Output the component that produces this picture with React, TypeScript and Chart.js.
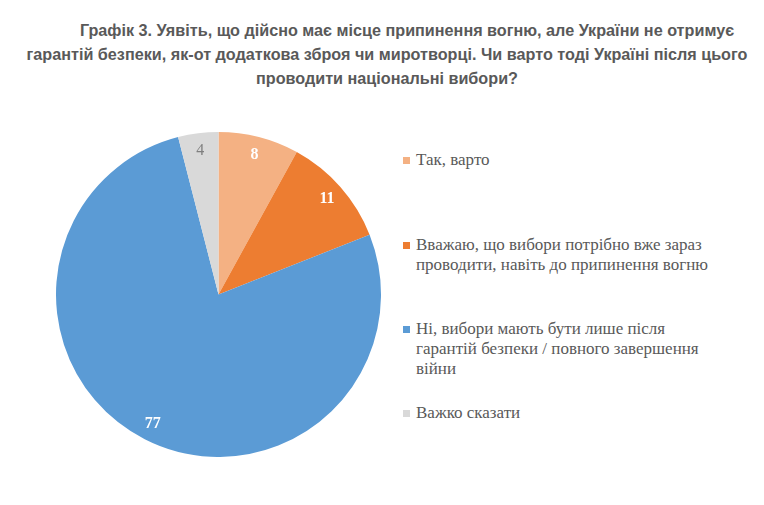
import { useEffect, useRef } from "react";
import { Chart, PieController, ArcElement } from "chart.js";

Chart.register(PieController, ArcElement);

const titleLines = [
  "Графік 3. Уявіть, що дійсно має місце припинення вогню, але України не отримує",
  "гарантій безпеки, як-от додаткова зброя чи миротворці. Чи варто тоді Україні після цього",
  "проводити національні вибори?",
];

const labels = [
  "Так, варто",
  "Вважаю, що вибори потрібно вже зараз проводити, навіть до припинення вогню",
  "Ні, вибори мають бути лише після гарантій безпеки / повного завершення війни",
  "Важко сказати",
];

// legend lines as wrapped in the original
const legendLines = [
  ["Так, варто"],
  ["Вважаю, що вибори потрібно вже зараз", "проводити, навіть до припинення вогню"],
  ["Ні, вибори мають бути лише після", "гарантій безпеки / повного завершення", "війни"],
  ["Важко сказати"],
];

const values = [8, 11, 77, 4];
const colors = ["#F4B183", "#ED7D31", "#5B9BD5", "#D9D9D9"];
const labelColors = ["#FFFFFF", "#FFFFFF", "#FFFFFF", "#7F7F7F"];
const labelWeights = ["bold", "bold", "bold", "normal"];

const serif = "'Liberation Serif', 'Times New Roman', Times, serif";

const sliceLabels = {
  id: "sliceLabels",
  afterDatasetsDraw(chart: Chart) {
    const ctx = chart.ctx;
    const meta = chart.getDatasetMeta(0);
    meta.data.forEach((arc: any, i: number) => {
      const p = arc.getProps(["x", "y", "startAngle", "endAngle", "outerRadius"], true);
      const mid = (p.startAngle + p.endAngle) / 2;
      const r = p.outerRadius * 0.89;
      ctx.save();
      ctx.font = `${labelWeights[i]} 16px ${serif}`;
      ctx.fillStyle = labelColors[i];
      ctx.textAlign = "center";
      ctx.textBaseline = "middle";
      ctx.fillText(String(values[i]), p.x + Math.cos(mid) * r, p.y + Math.sin(mid) * r);
      ctx.restore();
    });
  },
};

export default function App() {
  const canvasRef = useRef<HTMLCanvasElement | null>(null);

  useEffect(() => {
    if (!canvasRef.current) return;
    const chart = new Chart(canvasRef.current, {
      type: "pie",
      data: {
        labels,
        datasets: [
          {
            data: values,
            backgroundColor: colors,
            borderWidth: 0,
          },
        ],
      },
      options: {
        responsive: true,
        maintainAspectRatio: false,
        animation: false,
        layout: { padding: 0 },
        plugins: {
          legend: { display: false },
          tooltip: { enabled: false },
        },
      },
      plugins: [sliceLabels],
    });
    return () => chart.destroy();
  }, []);

  return (
    <div
      style={{
        position: "fixed",
        left: 0,
        top: 0,
        width: 764,
        height: 505,
        background: "#fff",
        overflow: "hidden",
      }}
    >
      <div
        style={{
          position: "absolute",
          left: 0,
          top: 18,
          width: 774,
          textAlign: "center",
          fontFamily: "'Liberation Sans', Arial, sans-serif",
          fontWeight: "bold",
          fontSize: 16.2,
          lineHeight: "24px",
          color: "#595959",
        }}
      >
        {titleLines.map((t, i) => (
          <div key={i} style={{ paddingLeft: i === 0 ? 40 : 0, whiteSpace: "nowrap" }}>
            {t}
          </div>
        ))}
      </div>

      <div style={{ position: "absolute", left: 56, top: 132, width: 325, height: 325 }}>
        <canvas ref={canvasRef} />
      </div>

      <div
        style={{
          position: "absolute",
          left: 403,
          top: 0,
          fontFamily: serif,
          fontSize: 17,
          color: "#595959",
        }}
      >
        {legendLines.map((lines, i) => {
          const tops = [150, 235, 319, 403];
          return (
            <div key={i} style={{ position: "absolute", top: tops[i], left: 0, whiteSpace: "nowrap" }}>
              <span
                style={{
                  position: "absolute",
                  left: 0,
                  top: 7,
                  width: 7,
                  height: 7,
                  background: colors[i],
                }}
              />
              <div style={{ marginLeft: 13, lineHeight: "20px" }}>
                {lines.map((l, j) => (
                  <div key={j}>{l}</div>
                ))}
              </div>
            </div>
          );
        })}
      </div>
    </div>
  );
}
